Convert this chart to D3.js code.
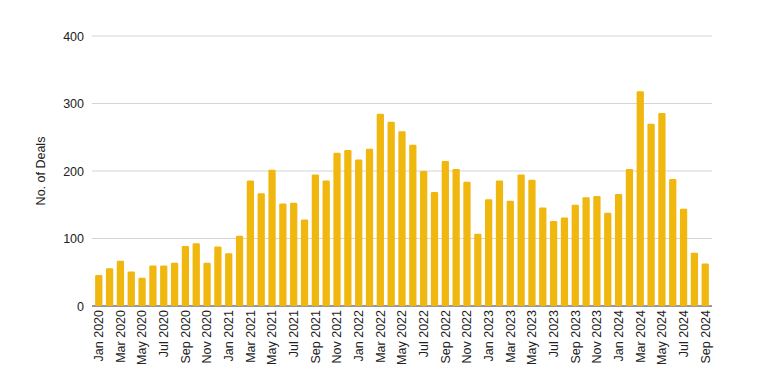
<!DOCTYPE html>
<html>
<head>
<meta charset="utf-8">
<script src="https://cdn.jsdelivr.net/npm/d3@7"></script>
<style>
  body { margin: 0; background: #fff; }
  svg { font-family: "Liberation Sans", Arial, sans-serif; }
</style>
</head>
<body>
<div id="chart"></div>
<script>
// monthly deal counts, Jan 2020 - Sep 2024
const months = ["Jan","Feb","Mar","Apr","May","Jun","Jul","Aug","Sep","Oct","Nov","Dec"];
const years = [2020, 2021, 2022, 2023, 2024];
const deals = [
  46, 56, 67, 51, 42, 60, 60, 64, 89, 93, 64, 88,
  78, 104, 186, 167, 202, 152, 153, 128, 195, 186, 227, 231,
  217, 233, 285, 273, 259, 239, 200, 169, 215, 203, 184, 107,
  158, 186, 156, 195, 187, 146, 126, 131, 150, 161, 163, 138,
  166, 203, 318, 270, 286, 188, 144, 79, 63
];
const yTicks = [0, 100, 200, 300, 400];

const categories = [];
years.forEach(y => months.forEach(m => categories.push(m + " " + y)));
const data = deals.map((v, i) => ({ label: categories[i], value: v }));

const width = 766, height = 391;
const margin = { top: 36, right: 54, bottom: 85, left: 92 };

const svg = d3.select("#chart").append("svg")
  .attr("width", width)
  .attr("height", height);

const x = d3.scaleBand()
  .domain(data.map(d => d.label))
  .range([margin.left, width - margin.right])
  .paddingInner(0.33)
  .paddingOuter(0.29);

const y = d3.scaleLinear()
  .domain([0, 400])
  .range([height - margin.bottom, margin.top]);

// gridlines
svg.append("g")
  .selectAll("line")
  .data(yTicks.filter(t => t > 0))
  .join("line")
  .attr("x1", margin.left)
  .attr("x2", width - margin.right)
  .attr("y1", d => y(d))
  .attr("y2", d => y(d))
  .attr("stroke", "#d4d4d4")
  .attr("stroke-width", 1);

// y axis labels
const yAxis = svg.append("g")
  .attr("transform", `translate(${margin.left},0)`)
  .call(d3.axisLeft(y).tickValues(yTicks).tickSize(0).tickPadding(8));
yAxis.select(".domain").remove();
yAxis.selectAll("text").attr("font-size", 12.5).attr("fill", "#222");

// baseline
svg.append("line")
  .attr("x1", margin.left)
  .attr("x2", width - margin.right)
  .attr("y1", y(0))
  .attr("y2", y(0))
  .attr("stroke", "#333")
  .attr("stroke-width", 1);

// bars
svg.append("g")
  .selectAll("rect")
  .data(data)
  .join("rect")
  .attr("x", d => x(d.label))
  .attr("y", d => y(d.value))
  .attr("width", x.bandwidth())
  .attr("height", d => y(0) - y(d.value))
  .attr("rx", 1.2)
  .attr("fill", "#F0B70E");

// x axis, every other month
const xAxis = svg.append("g")
  .attr("transform", `translate(0,${y(0)})`)
  .call(d3.axisBottom(x)
    .tickValues(categories.filter((c, i) => i % 2 === 0 && i < deals.length))
    .tickSize(0)
    .tickPadding(6));
xAxis.select(".domain").remove();
xAxis.selectAll("text")
  .attr("font-size", 12.5)
  .attr("fill", "#222")
  .attr("transform", "rotate(-90)")
  .attr("text-anchor", "end")
  .attr("dy", "0.35em")
  .attr("y", 0)
  .attr("x", -4);

// y axis title
svg.append("text")
  .attr("transform", `translate(45,${(y(0) + y(400)) / 2}) rotate(-90)`)
  .attr("text-anchor", "middle")
  .attr("font-size", 12.5)
  .attr("fill", "#222")
  .text("No. of Deals");
</script>
</body>
</html>
